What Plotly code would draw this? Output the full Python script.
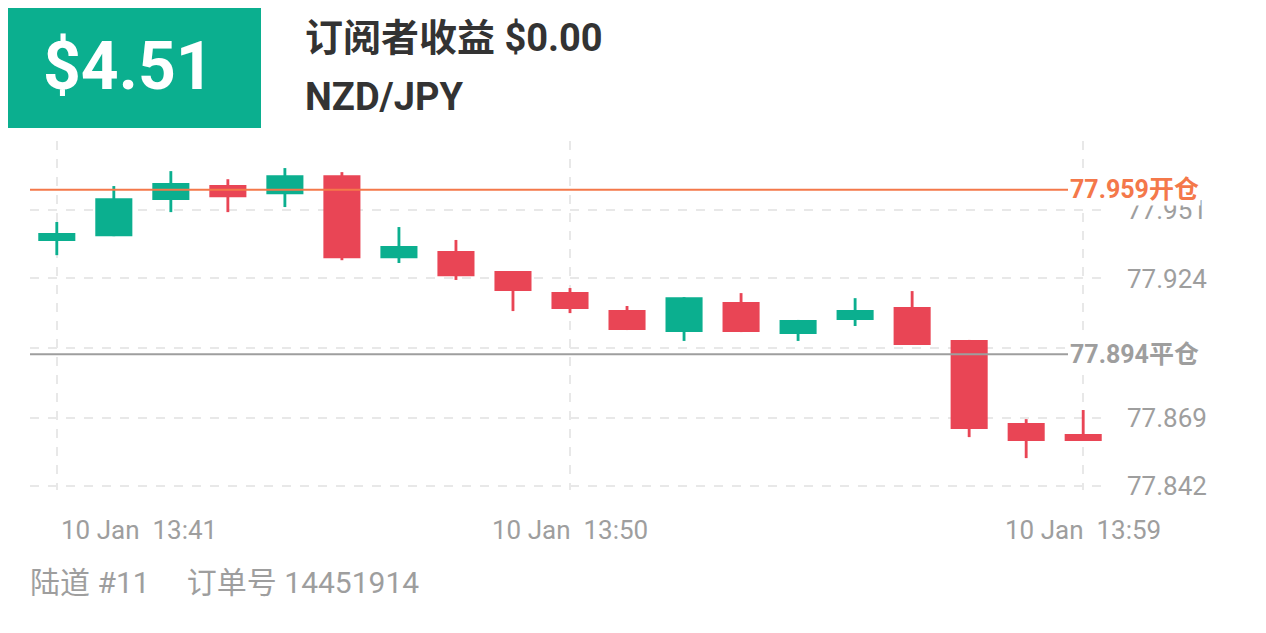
import plotly.graph_objects as go

times = ["13:41","13:42","13:43","13:44","13:45","13:46","13:47","13:48","13:49","13:50",
         "13:51","13:52","13:53","13:54","13:55","13:56","13:57","13:58","13:59"]
opens  = [77.9388,77.9407,77.9550,77.9609,77.9573,77.9648,77.9320,77.9348,77.9269,77.9186,77.9115,77.9028,77.9147,77.9020,77.9076,77.9127,77.8997,77.8669,77.8625]
closes = [77.9419,77.9557,77.9617,77.9561,77.9648,77.9320,77.9368,77.9249,77.9190,77.9119,77.9036,77.9166,77.9028,77.9076,77.9115,77.8977,77.8645,77.8598,77.8598]
highs  = [77.9463,77.9605,77.9664,77.9632,77.9676,77.9660,77.9443,77.9392,77.9269,77.9202,77.9131,77.9166,77.9182,77.9076,77.9162,77.9190,77.8997,77.8684,77.8720]
lows   = [77.9332,77.9407,77.9502,77.9502,77.9522,77.9312,77.9301,77.9234,77.9111,77.9103,77.9036,77.8993,77.9028,77.8993,77.9052,77.8977,77.8613,77.8530,77.8598]
ytick_vals = [77.978, 77.951, 77.924, 77.8965, 77.869, 77.842]
ytick_text = ["", "77.951", "77.924", "", "77.869", "77.842"]
open_price, close_price = 77.959, 77.894
profit, sub_profit = "$4.51", "$0.00"
symbol = "NZD/JPY"
xlabel_idx = [0, 9, 18]

GREEN, RED = "#0BAF8F", "#E94555"
FONT = "Roboto, Noto Sans CJK SC, sans-serif"
x = list(range(len(times)))
cols = [GREEN if c >= o else RED for o, c in zip(opens, closes)]

def px(p):  # page x -> paper
    return (p - 30) / 1080
def py(p):  # page y -> paper
    return (490 - p) / 349

fig = go.Figure()
fig.add_trace(go.Bar(x=x, base=lows, y=[h - l for h, l in zip(highs, lows)], width=0.05,
                     marker=dict(color=cols, line=dict(width=0)), hoverinfo="skip"))
fig.add_trace(go.Bar(x=x, base=[min(o, c) for o, c in zip(opens, closes)],
                     y=[max(abs(c - o), 0.0004) for o, c in zip(opens, closes)], width=0.65,
                     marker=dict(color=cols, line=dict(width=0)), hoverinfo="skip"))

fig.add_shape(type="line", xref="paper", x0=0, x1=px(1068), y0=open_price, y1=open_price,
              line=dict(color="#F4784A", width=2))
fig.add_shape(type="line", xref="paper", x0=0, x1=px(1068), y0=close_price, y1=close_price,
              line=dict(color="#9E9E9E", width=2))
fig.add_annotation(xref="paper", x=px(1068), y=open_price, text=f"<b>{open_price:.3f}开仓</b>",
                   showarrow=False, xanchor="left", yanchor="middle",
                   font=dict(size=25, color="#F4784A", family=FONT), bgcolor="white")
fig.add_annotation(xref="paper", x=px(1068), y=close_price, text=f"<b>{close_price:.3f}平仓</b>",
                   showarrow=False, xanchor="left", yanchor="middle",
                   font=dict(size=25, color="#9E9E9E", family=FONT), bgcolor="white")

for i in xlabel_idx:
    fig.add_annotation(x=i, yref="paper", y=py(530), yanchor="middle",
                       xanchor="left" if i == 0 else "center", xshift=2 if i == 0 else 0,
                       text=f"10 Jan  {times[i]}", showarrow=False,
                       font=dict(size=26, color="#9E9E9E", family=FONT))

# header
fig.add_shape(type="rect", xref="paper", yref="paper", x0=px(0), x1=px(261),
              y0=py(128), y1=py(0), fillcolor=GREEN, line=dict(width=0))
fig.add_annotation(xref="paper", yref="paper", x=px(128), y=py(66), xanchor="center", yanchor="middle",
                   text=f"<b>{profit}</b>", showarrow=False,
                   font=dict(size=66, color="white", family=FONT))
fig.add_annotation(xref="paper", yref="paper", x=px(303), y=py(38), xanchor="left", yanchor="middle",
                   text=f"<b>订阅者收益 {sub_profit}</b>", showarrow=False,
                   font=dict(size=38, color="#333333", family=FONT))
fig.add_annotation(xref="paper", yref="paper", x=px(303), y=py(97), xanchor="left", yanchor="middle",
                   text=f"<b>{symbol}</b>", showarrow=False,
                   font=dict(size=38, color="#333333", family=FONT))
fig.add_annotation(xref="paper", yref="paper", x=px(28), y=py(582), xanchor="left", yanchor="middle",
                   text="陆道 #11     订单号 14451914", showarrow=False,
                   font=dict(size=30, color="#9E9E9E", family=FONT))

fig.update_layout(
    width=1266, height=633, margin=dict(l=22, r=164, t=133, b=151),
    paper_bgcolor="white", plot_bgcolor="white", showlegend=False, barmode="overlay",
    xaxis=dict(range=[-0.47, 18.47], tickvals=xlabel_idx, showticklabels=False,
               showgrid=True, gridcolor="#E8E8E8", griddash="dash", gridwidth=2, zeroline=False),
    yaxis=dict(range=[77.8404, 77.9783], side="right", tickvals=ytick_vals, ticktext=ytick_text,
               showgrid=True, gridcolor="#E8E8E8", griddash="dash", gridwidth=2, zeroline=False,
               ticklabelstandoff=16, tickfont=dict(size=26, color="#9E9E9E", family=FONT)),
)
fig.write_html("out.html")
